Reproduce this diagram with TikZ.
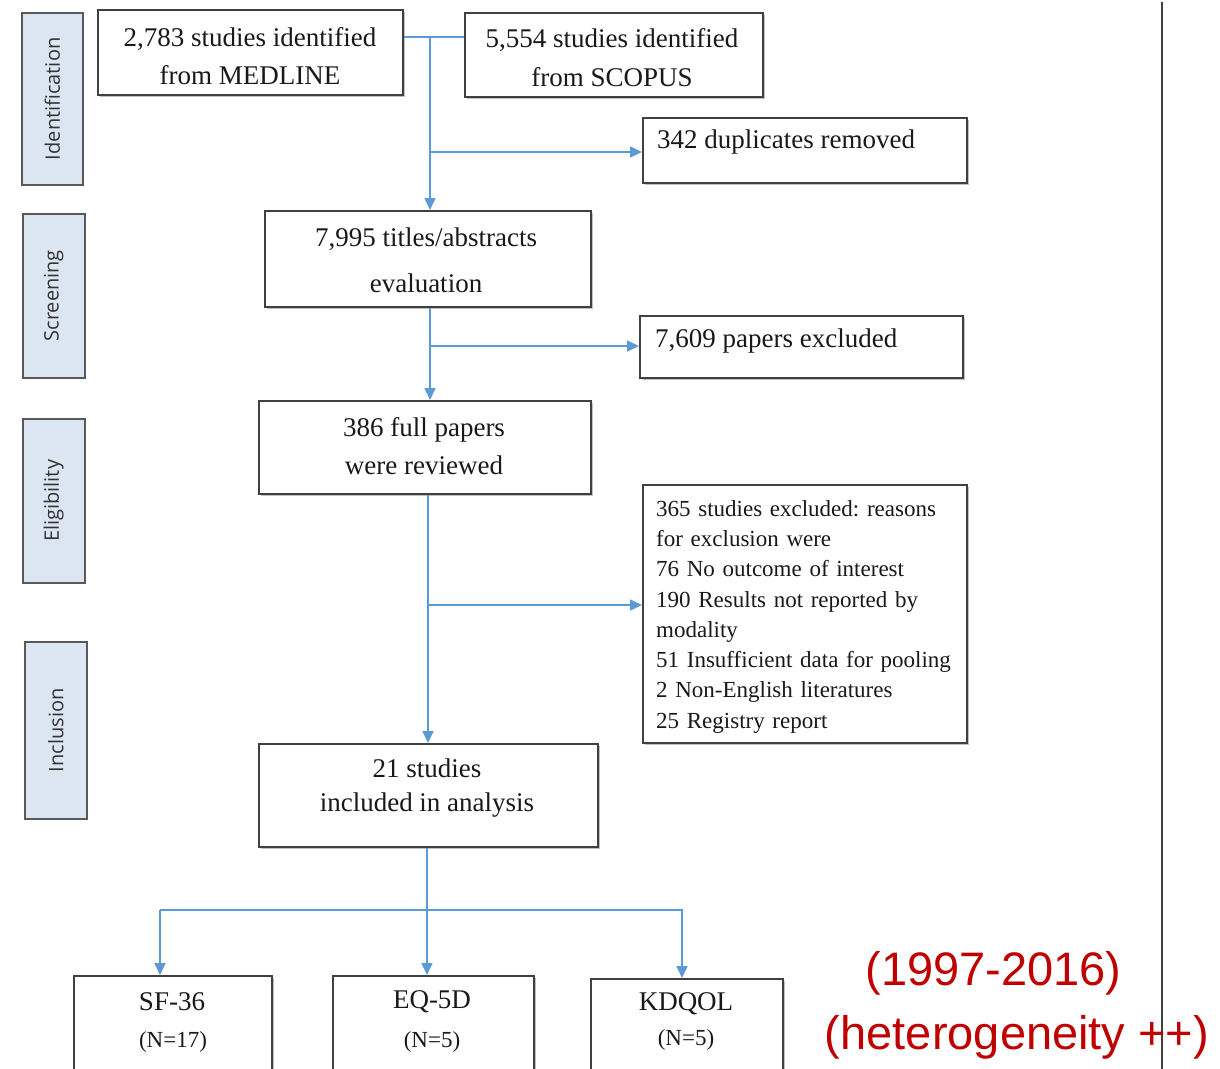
\documentclass[tikz,border=0pt]{standalone}
\usepackage{fontspec}
\setmainfont{Liberation Serif}
\newfontfamily\sidefont{Open Sans}
\newfontfamily\redfont{Liberation Sans}
\usetikzlibrary{arrows.meta,shadows}
\definecolor{sidefill}{HTML}{DCE6F2}
\definecolor{sideline}{HTML}{595959}
\definecolor{boxline}{HTML}{404040}
\definecolor{flowblue}{HTML}{5B9BD5}
\definecolor{darkred}{HTML}{C00000}
\begin{document}
\frenchspacing
\begin{tikzpicture}[x=1pt,y=-1pt,
  box/.style={draw=boxline, line width=1.9pt, fill=white, inner sep=0pt, anchor=north west,
    drop shadow={shadow xshift=2pt, shadow yshift=-2pt, fill=black!40, opacity=0.6}},
  side/.style={draw=sideline, line width=1.6pt, fill=sidefill, inner sep=0pt, anchor=north west},
  sidetxt/.style={font=\sidefont\fontsize{20}{22}\selectfont, text=black!80, rotate=90, inner sep=0pt},
  txt/.style={font=\fontsize{27}{#1}\selectfont, align=center, inner sep=0pt, text=black!90},
  ntxt/.style={font=\fontsize{23}{26}\selectfont, inner sep=0pt, text=black!90},
  ltxt/.style={font=\fontsize{27}{30}\selectfont, anchor=west, inner sep=0pt, text=black!90},
  conn/.style={draw=flowblue, line width=1.6pt},
  arr/.style={conn, -{Triangle[length=12pt,width=11pt]}},
  redtxt/.style={font=\redfont\fontsize{47}{50}\selectfont, text=darkred, inner sep=0pt}
]
\useasboundingbox (0,0) rectangle (1220,1068);
\fill[white] (0,0) rectangle (1220,1068);

% stage labels
\node[side, minimum width=61pt, minimum height=172pt] (ident) at (21,12) {};
\node[sidetxt] (ident-t) at (ident.center) {Identification};
\node[side, minimum width=62pt, minimum height=164pt] (screen) at (22,213) {};
\node[sidetxt] (screen-t) at (screen.center) {Screening};
\node[side, minimum width=62pt, minimum height=164pt] (elig) at (22,418) {};
\node[sidetxt] (elig-t) at (elig.center) {Eligibility};
\node[side, minimum width=62pt, minimum height=177pt] (inclu) at (24,641) {};
\node[sidetxt] (inclu-t) at (inclu.center) {Inclusion};

% boxes
\node[box, minimum width=305pt, minimum height=85pt] (medline) at (97,9) {};
\node[txt=38] (medline-t) at (250,56) {2,783 studies identified\\from MEDLINE};
\node[box, minimum width=298pt, minimum height=84pt] (scopus) at (464,12) {};
\node[txt=39] (scopus-t) at (612,57.5) {5,554 studies identified\\from SCOPUS};
\node[box, minimum width=324pt, minimum height=65pt] (dup) at (642,117) {};
\node[ltxt] (dup-t) at (657,142) {342 duplicates removed};
\node[box, minimum width=326pt, minimum height=96pt] (titles) at (264,210) {};
\node[txt=46] (titles-t) at (426,260) {7,995 titles/abstracts\\evaluation};
\node[box, minimum width=323pt, minimum height=62pt] (excl) at (639,315) {};
\node[ltxt] (excl-t) at (655,341) {7,609 papers excluded};
\node[box, minimum width=332pt, minimum height=93pt] (full) at (258,400) {};
\node[txt=38] (full-t) at (424,446) {386 full papers\\were reviewed};
\node[box, minimum width=324pt, minimum height=258pt] (reasons) at (642,484) {};
\node[font=\fontsize{23}{30.3}\selectfont, text width=310pt, align=left, anchor=north west,
  inner sep=0pt, text=black!90] (reasons-t) at (656,500)
  {365 studies excluded: reasons\\for exclusion were\\76 No outcome of interest\\190 Results not reported by\\modality\\51 Insufficient data for pooling\\2 Non-English literatures\\25 Registry report};
\node[box, minimum width=339pt, minimum height=103pt] (incl) at (258,743) {};
\node[txt=34] (incl-t) at (427,788) {21 studies\\included in analysis};
\node[box, minimum width=198pt, minimum height=110pt] (sf) at (73,975) {};
\node[txt=26] (sf-t) at (172,1002) {SF-36};
\node[ntxt] (sf-n) at (173,1042) {(N=17)};
\node[box, minimum width=201pt, minimum height=110pt] (eq) at (332,975) {};
\node[txt=26] (eq-t) at (432,1002) {EQ-5D};
\node[ntxt] (eq-n) at (432,1042) {(N=5)};
\node[box, minimum width=192pt, minimum height=107pt] (kd) at (590,978) {};
\node[txt=26] (kd-t) at (686,1004) {KDQOL};
\node[ntxt] (kd-n) at (686,1040) {(N=5)};

% connectors
\coordinate (j1) at (430,37);
\draw[conn] (medline.east |- j1) -- (scopus.west |- j1);
\draw[arr] (j1) -- (titles.north -| j1);
\coordinate (b1) at (430,152);
\draw[arr] (b1) -- (dup.west |- b1);
\draw[arr] (titles.south -| j1) -- (full.north -| j1);
\coordinate (b2) at (430,346);
\draw[arr] (b2) -- (excl.west |- b2);
\coordinate (j3) at (428,605);
\draw[arr] (full.south -| j3) -- (incl.north -| j3);
\draw[arr] (j3) -- (reasons.west |- j3);
\coordinate (j4) at (427,910);
\draw[arr] (incl.south -| j4) -- (eq.north -| j4);
\coordinate (cL) at (160,910);
\coordinate (cR) at (682,910);
\draw[arr] (cL) -- (cR) -- (kd.north -| cR);
\draw[arr] (cL) -- (sf.north -| cL);

% right separator line
\draw[line width=2pt, black!75] (1162,2) -- (1162,1070);

% red note
\node[redtxt] (red1) at (993.5,973) {(1997-2016)};
\node[redtxt] (red2) at (1017,1037) {(heterogeneity ++)};
\end{tikzpicture}
\end{document}
